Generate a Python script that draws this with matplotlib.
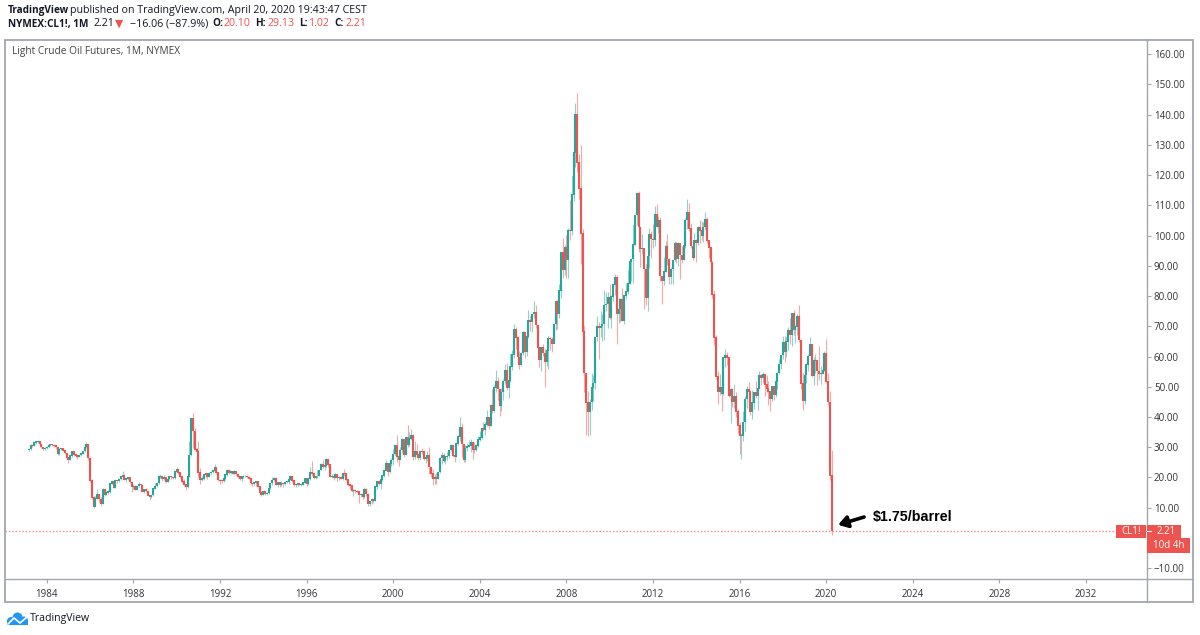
import matplotlib
matplotlib.use("Agg")
import matplotlib.pyplot as plt
import numpy as np
from matplotlib.patches import Rectangle, Circle
from matplotlib.transforms import blended_transform_factory

plt.rcParams['font.family'] = ['Open Sans', 'DejaVu Sans']

# ---------------- data (monthly, NYMEX CL1!, Mar 1983 - Apr 2020) ----------------
first_year, first_month = 1983, 3
first_open = 29.0

close = [
    29.3, 30.6, 30.5, 31.4, 31.7, 32.0, 30.9, 29.9, 29.4, 29.6,                      # 1983
    29.9, 30.6, 30.8, 30.6, 30.5, 29.9, 27.6, 29.3, 29.5, 28.9, 28.0, 26.4,          # 1984
    25.9, 27.2, 28.6, 27.5, 27.2, 26.8, 27.3, 27.9, 28.6, 30.0, 30.8, 26.3,          # 1985
    18.8, 13.3, 10.3, 13.0, 14.3, 12.8, 11.2, 15.9, 14.3, 14.9, 15.2, 17.9,          # 1986
    18.7, 16.6, 18.8, 18.7, 19.4, 20.3, 20.5, 19.2, 19.5, 19.8, 18.4, 16.7,          # 1987
    17.0, 16.0, 17.0, 17.6, 17.4, 15.3, 16.1, 15.4, 14.0, 13.4, 14.1, 16.3,          # 1988
    17.0, 18.1, 20.3, 20.3, 19.6, 20.1, 18.6, 19.4, 20.2, 20.0, 19.7, 21.8,          # 1989
    22.7, 21.5, 20.3, 18.5, 17.5, 16.9, 20.3, 27.3, 39.5, 35.2, 29.1, 28.4,          # 1990
    21.5, 19.2, 19.5, 20.8, 21.2, 20.1, 21.4, 21.7, 22.2, 23.3, 21.5, 19.1,          # 1991
    18.9, 18.7, 19.6, 20.9, 22.1, 21.6, 21.9, 21.1, 21.9, 21.0, 20.3, 19.5,          # 1992
    20.3, 20.4, 20.4, 20.0, 19.6, 18.0, 17.7, 18.3, 18.7, 16.9, 15.0, 14.2,          # 1993
    15.2, 14.6, 14.7, 16.4, 18.0, 19.1, 19.7, 17.6, 18.4, 17.6, 18.1, 17.7,          # 1994
    18.4, 18.5, 19.2, 20.4, 18.9, 17.4, 17.6, 17.8, 17.5, 17.6, 18.2, 19.6,          # 1995
    17.7, 19.5, 21.5, 21.2, 19.8, 20.4, 20.4, 22.3, 24.4, 23.4, 23.8, 25.9,          # 1996
    24.2, 20.3, 20.4, 19.7, 20.9, 19.8, 20.1, 19.6, 21.2, 21.1, 19.2, 17.6,          # 1997
    17.2, 15.4, 15.6, 15.4, 15.2, 14.2, 14.2, 13.4, 16.1, 14.4, 11.2, 12.1,          # 1998
    12.8, 12.3, 16.8, 18.7, 17.9, 19.3, 20.5, 22.1, 24.5, 21.8, 24.6, 25.6,          # 1999
    27.6, 30.4, 26.9, 25.7, 29.0, 32.5, 27.4, 33.1, 30.8, 32.7, 34.0, 26.8,          # 2000
    28.7, 27.4, 26.3, 28.5, 28.4, 26.2, 26.4, 27.2, 23.4, 21.2, 19.4, 19.8,          # 2001
    19.5, 21.7, 26.3, 27.3, 25.3, 26.9, 27.0, 29.0, 30.5, 27.2, 26.9, 31.2,          # 2002
    33.5, 36.6, 31.0, 25.8, 29.6, 30.2, 30.5, 31.6, 29.2, 29.1, 30.4, 32.5,          # 2003
    33.1, 36.2, 35.8, 37.4, 39.9, 37.1, 43.8, 42.1, 49.6, 51.8, 49.1, 43.5,          # 2004
    48.2, 51.8, 55.4, 49.7, 52.0, 56.5, 60.6, 68.9, 66.2, 59.8, 57.3, 61.0,          # 2005
    67.9, 61.4, 66.6, 71.9, 71.3, 73.9, 74.4, 70.3, 62.9, 58.7, 63.1, 61.1,          # 2006
    58.1, 61.8, 65.9, 65.7, 64.0, 70.7, 78.2, 74.0, 81.7, 94.5, 88.7, 96.0,          # 2007
    91.8, 101.8, 101.6, 113.5, 127.4, 140.0, 124.1, 115.5, 100.6, 68.1, 54.4, 44.6,  # 2008
    41.7, 44.8, 49.7, 51.1, 66.3, 69.9, 69.5, 70.0, 70.6, 77.0, 77.3, 79.4,          # 2009
    72.9, 79.7, 83.8, 86.2, 74.0, 75.6, 78.9, 71.9, 80.0, 81.4, 84.1, 91.4,          # 2010
    92.2, 97.0, 106.7, 113.9, 102.7, 95.4, 95.7, 88.8, 79.2, 93.2, 100.4, 98.8,      # 2011
    98.5, 107.1, 103.0, 104.9, 86.5, 85.0, 88.1, 96.5, 92.2, 86.2, 88.9, 91.8,       # 2012
    97.5, 92.1, 97.2, 93.5, 92.0, 96.6, 105.0, 107.7, 102.3, 96.4, 92.7, 98.4,       # 2013
    97.5, 102.6, 101.6, 99.7, 102.7, 105.4, 98.2, 96.0, 91.2, 80.5, 66.2, 53.3,      # 2014
    48.2, 49.8, 47.6, 59.6, 60.3, 59.5, 47.1, 49.2, 45.1, 46.6, 41.7, 37.0,          # 2015
    33.6, 33.8, 38.3, 45.9, 49.1, 48.3, 41.6, 44.7, 48.2, 46.9, 49.4, 53.7,          # 2016
    52.8, 54.0, 50.6, 49.3, 48.3, 46.0, 50.2, 47.2, 51.7, 54.4, 57.4, 60.4,          # 2017
    64.7, 61.6, 64.9, 68.6, 67.0, 74.2, 68.8, 69.8, 73.3, 65.3, 50.9, 45.4,          # 2018
    53.8, 57.2, 60.1, 63.9, 53.5, 58.5, 58.6, 55.1, 54.1, 54.2, 55.2, 61.1,          # 2019
    51.6, 44.8, 20.5, 2.21,                                                          # 2020
]

high = [
    29.6, 30.9, 31.0, 31.6, 32.1, 32.3, 32.1, 31.0, 30.0, 29.9,
    30.3, 30.8, 31.2, 31.0, 30.8, 30.6, 29.9, 29.6, 29.8, 29.6, 29.1, 28.2,
    26.8, 27.4, 28.9, 28.8, 27.9, 27.3, 27.5, 28.1, 28.9, 30.2, 31.8, 30.9,
    26.6, 19.4, 14.0, 13.9, 16.2, 14.5, 13.4, 16.6, 16.2, 15.4, 15.8, 18.2,
    19.1, 18.8, 18.9, 19.0, 19.5, 20.5, 22.2, 21.2, 19.8, 20.3, 19.1, 18.7,
    17.8, 17.4, 17.1, 18.4, 17.9, 17.5, 16.3, 16.4, 15.7, 14.4, 14.3, 16.5,
    18.0, 18.2, 20.8, 21.2, 20.5, 20.9, 20.3, 19.5, 20.3, 20.7, 20.2, 22.1,
    23.5, 22.7, 21.5, 20.4, 19.4, 17.7, 20.6, 31.9, 39.6, 41.2, 36.3, 29.7,
    32.0, 23.0, 20.4, 21.2, 21.5, 21.4, 21.7, 22.2, 22.4, 24.4, 23.6, 21.5,
    19.5, 19.5, 19.8, 20.9, 22.2, 22.8, 22.4, 22.1, 22.3, 22.2, 21.3, 20.4,
    20.5, 20.8, 20.8, 20.8, 20.4, 19.8, 18.2, 18.5, 18.8, 18.8, 17.0, 15.4,
    15.4, 15.6, 15.2, 16.8, 18.1, 20.2, 20.1, 20.0, 18.5, 18.6, 18.7, 18.2,
    18.8, 18.8, 19.3, 20.7, 20.4, 19.0, 17.8, 18.1, 17.9, 17.9, 18.3, 19.9,
    19.8, 19.7, 23.5, 25.5, 21.5, 20.6, 22.3, 22.4, 24.7, 25.6, 24.1, 26.3,
    26.0, 24.4, 21.2, 20.8, 21.3, 21.0, 20.5, 20.4, 21.4, 22.7, 21.1, 19.6,
    17.8, 17.2, 16.2, 16.2, 16.0, 15.3, 14.8, 14.2, 16.9, 16.4, 14.4, 12.3,
    13.3, 13.0, 16.9, 18.9, 19.0, 19.3, 20.7, 22.3, 25.6, 24.5, 24.9, 26.5,
    29.5, 30.6, 34.1, 27.5, 30.2, 33.1, 32.8, 33.4, 37.2, 34.9, 36.0, 34.4,
    32.2, 31.1, 28.2, 29.1, 29.6, 29.2, 27.4, 28.8, 30.0, 23.2, 22.9, 21.0,
    21.5, 21.9, 26.7, 28.4, 28.0, 27.0, 28.3, 29.2, 31.0, 30.7, 28.1, 31.7,
    34.0, 39.9, 38.0, 30.8, 30.7, 31.4, 32.5, 32.8, 31.6, 31.6, 31.0, 33.7,
    35.3, 36.5, 38.2, 38.4, 42.3, 40.0, 44.2, 49.4, 50.5, 55.7, 53.2, 46.4,
    49.6, 52.5, 57.6, 58.0, 52.2, 60.9, 62.1, 70.8, 69.8, 66.0, 61.9, 61.4,
    68.4, 67.9, 67.0, 75.4, 73.4, 73.9, 78.4, 77.0, 70.3, 63.0, 63.2, 64.3,
    62.4, 62.3, 66.7, 66.5, 66.4, 70.6, 78.8, 78.8, 83.9, 94.7, 99.3, 96.8,
    100.1, 102.6, 111.8, 119.9, 135.1, 143.7, 147.3, 127.0, 130.0, 102.1, 70.0, 54.7,
    48.6, 45.9, 54.7, 53.9, 66.4, 73.4, 71.3, 75.0, 74.0, 82.0, 81.5, 81.4,
    83.9, 80.5, 83.9, 87.2, 86.8, 79.2, 79.4, 82.6, 80.4, 84.3, 88.6, 91.9,
    92.6, 103.4, 106.9, 113.9, 114.8, 102.4, 100.6, 95.7, 90.5, 94.7, 102.4, 101.6,
    103.7, 109.8, 110.6, 106.4, 106.2, 86.3, 92.9, 98.3, 100.4, 92.7, 89.5, 91.6,
    98.2, 97.8, 97.8, 97.3, 96.4, 99.1, 105.9, 112.2, 110.7, 104.3, 95.6, 100.8,
    98.9, 103.3, 105.2, 104.9, 104.6, 107.7, 106.1, 98.4, 96.0, 91.6, 82.0, 67.0,
    55.2, 54.2, 52.5, 59.9, 62.6, 61.6, 59.5, 49.7, 49.5, 50.9, 48.4, 42.6,
    38.4, 34.7, 41.9, 46.8, 50.2, 51.7, 49.0, 48.8, 48.4, 51.9, 49.8, 55.2,
    54.3, 54.9, 54.3, 53.8, 52.0, 48.4, 50.4, 50.2, 52.9, 54.8, 59.1, 60.5,
    66.7, 66.7, 66.6, 69.6, 72.9, 74.5, 75.3, 70.4, 74.0, 76.9, 65.4, 54.6,
    54.6, 57.8, 60.7, 66.6, 63.8, 59.8, 60.9, 58.8, 63.4, 56.9, 58.7, 61.9,
    65.7, 54.7, 48.7, 29.13,
]

low = [
    28.7, 29.0, 29.9, 30.4, 31.0, 31.4, 30.6, 29.6, 29.1, 29.2,
    29.3, 29.8, 30.4, 30.3, 30.1, 29.5, 27.3, 27.4, 29.0, 28.6, 27.8, 26.1,
    24.9, 25.7, 26.9, 27.2, 26.9, 26.2, 26.6, 27.1, 27.8, 28.5, 29.8, 25.9,
    18.4, 13.0, 10.0, 10.4, 12.8, 12.0, 10.4, 11.2, 13.9, 14.1, 14.5, 14.9,
    17.8, 16.5, 16.6, 18.2, 18.6, 19.3, 20.0, 19.1, 18.5, 19.2, 18.3, 15.1,
    16.3, 15.9, 15.9, 16.9, 17.0, 15.1, 14.9, 15.2, 13.9, 12.6, 13.2, 14.0,
    16.2, 16.9, 17.9, 19.9, 18.9, 19.3, 18.3, 18.4, 19.1, 19.6, 19.4, 19.6,
    21.5, 21.2, 19.9, 18.0, 17.2, 15.9, 16.5, 20.1, 27.2, 29.8, 29.0, 24.7,
    20.1, 17.8, 18.9, 19.1, 20.3, 19.6, 20.0, 20.7, 21.3, 22.1, 21.2, 18.9,
    17.9, 18.3, 18.4, 19.3, 20.6, 21.0, 21.1, 21.0, 21.0, 20.7, 19.9, 19.0,
    18.7, 19.9, 20.1, 19.9, 19.6, 17.9, 17.1, 17.4, 17.3, 16.7, 14.8, 13.8,
    14.1, 14.3, 14.2, 14.4, 16.3, 17.6, 18.7, 17.5, 16.8, 16.9, 17.3, 16.8,
    17.5, 18.0, 17.8, 19.1, 18.5, 17.2, 16.9, 17.3, 17.4, 17.1, 17.5, 18.2,
    17.1, 17.5, 19.2, 20.5, 19.5, 19.6, 19.8, 20.4, 22.3, 23.1, 22.5, 23.5,
    23.4, 20.0, 19.8, 19.2, 19.7, 18.9, 19.1, 19.4, 19.3, 20.6, 18.7, 17.3,
    16.1, 15.1, 13.9, 15.0, 14.9, 11.4, 13.5, 12.8, 13.2, 13.7, 10.7, 10.4,
    11.3, 11.6, 12.3, 16.1, 17.4, 16.3, 18.8, 20.0, 22.5, 20.6, 21.5, 23.9,
    24.0, 27.4, 25.0, 23.9, 25.6, 28.0, 26.6, 27.4, 30.2, 30.3, 32.4, 25.8,
    26.1, 26.8, 25.7, 25.8, 27.6, 25.6, 24.9, 25.5, 21.0, 20.2, 17.5, 17.9,
    17.8, 19.5, 21.5, 24.6, 25.0, 24.3, 25.9, 26.4, 28.7, 26.6, 25.1, 26.6,
    30.8, 32.2, 26.8, 25.0, 25.1, 28.8, 29.9, 28.3, 26.0, 28.2, 28.6, 29.9,
    31.9, 32.7, 35.3, 33.9, 37.0, 35.9, 37.0, 41.4, 41.7, 48.4, 45.5, 40.2,
    42.1, 45.6, 50.8, 48.9, 46.2, 51.6, 55.7, 59.5, 62.6, 59.0, 55.9, 56.9,
    60.5, 59.4, 60.2, 66.1, 68.5, 68.1, 72.8, 69.4, 59.5, 56.6, 55.3, 60.1,
    49.9, 56.7, 56.0, 62.2, 61.5, 64.5, 68.8, 69.1, 72.7, 79.5, 86.1, 86.9,
    86.1, 86.1, 98.7, 100.2, 111.6, 122.7, 121.0, 112.0, 90.5, 61.3, 48.3, 33.9,
    33.6, 33.9, 42.3, 45.4, 49.3, 65.0, 59.1, 66.6, 65.1, 65.6, 75.1, 69.5,
    72.4, 69.5, 78.3, 80.4, 64.2, 71.0, 71.5, 71.6, 70.8, 79.0, 80.6, 84.0,
    85.1, 84.4, 96.9, 103.4, 94.6, 89.6, 93.8, 75.7, 77.1, 74.9, 89.2, 92.5,
    96.0, 96.6, 102.8, 100.7, 85.1, 77.3, 83.7, 88.1, 90.3, 84.1, 83.9, 84.0,
    91.5, 90.9, 90.0, 85.6, 90.9, 92.0, 95.8, 102.2, 101.5, 95.8, 91.8, 92.6,
    91.2, 96.8, 97.4, 98.4, 98.0, 102.0, 97.7, 92.5, 90.4, 79.4, 63.7, 52.4,
    44.4, 47.4, 42.0, 47.3, 56.5, 57.2, 46.7, 38.0, 43.2, 43.0, 40.0, 34.5,
    27.6, 26.1, 32.1, 35.2, 43.0, 45.8, 40.6, 39.2, 42.5, 46.2, 42.2, 49.9,
    50.7, 51.2, 47.1, 48.2, 43.8, 42.1, 45.4, 45.6, 46.5, 49.1, 54.2, 55.8,
    59.1, 58.1, 59.9, 62.1, 64.2, 63.6, 67.0, 64.4, 67.0, 64.9, 49.4, 42.4,
    44.4, 51.2, 55.1, 60.1, 53.1, 50.6, 54.5, 50.5, 52.1, 50.9, 54.6, 55.3,
    51.1, 44.0, 19.3, 1.02,
]

year_ticks = list(range(1984, 2033, 4))
price_ticks = list(range(-10, 161, 10))

# ---------------- styling ----------------
GREEN = '#26a69a'
RED = '#ef5350'
FRAME = '#a3a6ae'
TXT = '#333333'
DARK = '#131722'
W, H = 1200, 635

close = np.array(close)
high = np.array(high)
low = np.array(low)
n = len(close)
opens = np.concatenate([[first_open], close[:-1]])
xpos = first_year + (first_month - 1) / 12 + np.arange(n) / 12
last = close[-1]

fig = plt.figure(figsize=(W / 100, H / 100), dpi=100)
fig.patch.set_facecolor('white')


def fx(px):
    return px / W


def fy(py):
    return 1 - py / H


ax = fig.add_axes([fx(5), fy(579), fx(1147) - fx(5), fy(40) - fy(579)])
ymin, ymax = -13.6, 164.7
ax.set_xlim(1982.07, 2034.82)
ax.set_ylim(ymin, ymax)
for s in ax.spines.values():
    s.set_visible(False)

up = close >= opens
cols = np.where(up, GREEN, RED)
ax.vlines(xpos, low, high, colors=cols, lw=0.8, alpha=0.5, zorder=2)
ax.vlines(xpos, np.minimum(opens, close), np.maximum(opens, close) + 0.2,
          colors=cols, lw=1.5, zorder=3)

ax.axhline(last, color='#f28b89', lw=0.9, ls=(0, (1.2, 1.5)), zorder=1)

ax.yaxis.tick_right()
ax.set_yticks(price_ticks)
# the 0.00 label sits under the last-price boxes, so it is left blank
ax.set_yticklabels(['' if v == 0 else f"{v:.2f}".replace('-', '\u2212') for v in price_ticks])
ax.tick_params(axis='y', direction='out', length=3, width=0.8, color=FRAME,
               pad=2, labelsize=7, labelcolor=TXT)
ax.set_xticks(year_ticks)
ax.set_xticklabels([str(y) for y in year_ticks])
ax.tick_params(axis='x', direction='out', length=3, width=0.8, color=FRAME,
               pad=4, labelsize=7, labelcolor=TXT)

# annotation
ax.annotate('', xy=(2020.55, 4.3), xytext=(2021.75, 6.9),
            arrowprops=dict(arrowstyle='-|>,head_width=0.35,head_length=0.55',
                            lw=2.6, color='black', shrinkA=0, shrinkB=0))
ax.text(2022.15, 6.9, '$1.75/barrel', fontsize=10.3, fontweight='bold',
        family=['Liberation Sans', 'DejaVu Sans'], va='center', ha='left',
        color='black')

ax.text(0.006, 0.978, 'Light Crude Oil Futures, 1M, NYMEX', transform=ax.transAxes,
        fontsize=7.3, color='#444444', va='center', ha='left')

# ---------------- overlay (pixel coords) ----------------
ov = fig.add_axes([0, 0, 1, 1], zorder=5)
ov.set_xlim(0, W)
ov.set_ylim(H, 0)
ov.axis('off')
ov.patch.set_alpha(0)

ov.add_patch(Rectangle((5, 40), 1188, 562, fill=False, ec=FRAME, lw=1.3))
ov.plot([1147, 1147], [40, 602], color=FRAME, lw=1.0)
ov.plot([5, 1193], [579, 579], color=FRAME, lw=1.0)

# price labels tied to last close
btf = blended_transform_factory(ov.transData, ax.transData)
upp = (ymax - ymin) / 539.0  # data units per pixel
bh = 13 * upp
ov.add_patch(Rectangle((1116, last - bh / 2), 30, bh, transform=btf, fc=RED, ec='none', zorder=6))
ov.add_patch(Rectangle((1147, last - bh / 2), 34, bh, transform=btf, fc=RED, ec='none', zorder=6))
ov.add_patch(Rectangle((1147, last - bh / 2 - 15 * upp), 43, 15 * upp, transform=btf,
                       fc=RED, ec='none', zorder=6))
ov.plot([1147, 1151], [last, last], transform=btf, color='white', lw=0.8, zorder=7)
ov.text(1131, last, 'CL1!', transform=btf, color='white', fontsize=7, ha='center',
        va='center', zorder=7)
ov.text(1166, last, f"{last:.2f}", transform=btf, color='white', fontsize=7, ha='center',
        va='center', zorder=7)
ov.text(1169, last - bh / 2 - 7.5 * upp, '10d 4h', transform=btf, color='white', fontsize=7,
        ha='center', va='center', zorder=7)

# header
hs, hb = 7.7, 7.2
ov.text(8, 10, 'TradingView', fontsize=hb, fontweight='bold', color=DARK, va='center')
ov.text(70.5, 10, 'published on TradingView.com, April 20, 2020 19:43:47 CEST', fontsize=hs,
        color=DARK, va='center')
segs = [
    (8, 'NYMEX:CL1!, 1M', 'bold', DARK),
    (93, f"{last:.2f}", 'normal', DARK),
    (115, '\u25bc', 'normal', RED),
    (129.5, '\u221216.06 (\u221287.9%)', 'normal', DARK),
    (212.5, 'O:', 'bold', DARK),
    (224, '20.10', 'normal', RED),
    (255, 'H:', 'bold', DARK),
    (267, '29.13', 'normal', RED),
    (299, 'L:', 'bold', DARK),
    (308, '1.02', 'normal', RED),
    (334, 'C:', 'bold', DARK),
    (346, f"{last:.2f}", 'normal', RED),
]
for x0, s, wgt, c in segs:
    ov.text(x0, 24, s, fontsize=hb if wgt == 'bold' else hs, fontweight=wgt, color=c,
            va='center', ha='left')

# bottom logo
LOGO = '#2196f3'
for cx, cy, r in [(11, 621, 4.0), (17.5, 617.5, 5.0), (24, 620.5, 4.0)]:
    ov.add_patch(Circle((cx, cy), r, fc=LOGO, ec='none'))
ov.add_patch(Rectangle((7, 620), 21, 5, fc=LOGO, ec='none'))
ov.plot([8, 14, 20, 27], [624, 618, 623, 617], color='white', lw=1.2)
ov.text(30, 618.5, 'TradingView', fontsize=7.6, color=DARK, va='center', ha='left')

fig.savefig('out.png', dpi=100, facecolor='white')
